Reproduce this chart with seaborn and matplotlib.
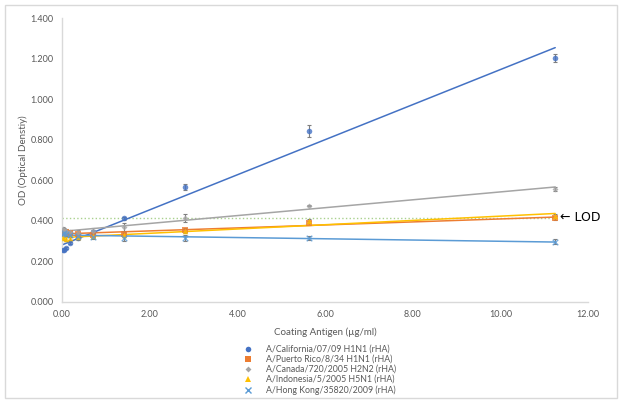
import numpy as np
import pandas as pd
import matplotlib
matplotlib.use("Agg")
import matplotlib.pyplot as plt
import seaborn as sns
from matplotlib.patches import Rectangle
from matplotlib.lines import Line2D

# Twofold dilution series of coating antigen (ug/ml)
conc = [11.25, 5.625, 2.8125, 1.406, 0.703, 0.352, 0.176, 0.088, 0.044, 0.022]

# OD readings per antigen
california = [1.205, 0.843, 0.567, 0.413, 0.345, 0.315, 0.290, 0.265, 0.258, 0.255]
puerto_rico = [0.414, 0.390, 0.355, 0.335, 0.330, 0.335, 0.340, 0.345, 0.340, 0.335]
canada = [0.557, 0.475, 0.414, 0.370, 0.350, 0.340, 0.345, 0.350, 0.355, 0.360]
indonesia = [0.424, 0.400, 0.350, 0.330, 0.325, 0.320, 0.315, 0.310, 0.315, 0.320]
hong_kong = [0.297, 0.315, 0.315, 0.315, 0.320, 0.325, 0.330, 0.335, 0.340, 0.335]

# standard deviations (error bars)
california_err = [0.020, 0.030, 0.015, 0.008, 0.010, 0.008, 0.006, 0.006, 0.006, 0.006]
puerto_rico_err = [0.008, 0.010, 0.010, 0.010, 0.010, 0.010, 0.008, 0.008, 0.008, 0.008]
canada_err = [0.008, 0.004, 0.018, 0.018, 0.015, 0.015, 0.010, 0.010, 0.010, 0.010]
indonesia_err = [0.008, 0.010, 0.010, 0.008, 0.008, 0.008, 0.008, 0.008, 0.008, 0.008]
hong_kong_err = [0.012, 0.010, 0.015, 0.015, 0.012, 0.012, 0.010, 0.010, 0.010, 0.010]

lod = 0.415

labels = ["A/California/07/09 H1N1 (rHA)",
          "A/Puerto Rico/8/34 H1N1 (rHA)",
          "A/Canada/720/2005 H2N2 (rHA)",
          "A/Indonesia/5/2005 H5N1 (rHA)",
          "A/Hong Kong/35820/2009 (rHA)"]
series = [california, puerto_rico, canada, indonesia, hong_kong]
errors = [california_err, puerto_rico_err, canada_err, indonesia_err, hong_kong_err]
colors = ["#4472C4", "#ED7D31", "#A5A5A5", "#FFC000", "#5B9BD5"]
markers = ["o", "s", "D", "^", "x"]
msizes = [4, 4, 3, 4, 4]

sns.set_theme(style="white")
plt.rcParams['font.family'] = ['Lato', 'DejaVu Sans']

fig = plt.figure(figsize=(6.21, 4.03), dpi=100)
ax = fig.add_axes([0.100, 0.251, 0.847, 0.704])

# LOD reference line
ax.plot([0, conc[0]], [lod, lod], color="#A9D18E", linestyle=":", linewidth=1.0, zorder=1)

handles = []
for lab, y, err, c, m, ms in zip(labels, series, errors, colors, markers, msizes):
    df = pd.DataFrame({"x": conc, "y": y})
    ax.errorbar(conc, y, yerr=err, fmt="none", ecolor="#7F7F7F",
                elinewidth=0.8, capsize=1.5, capthick=0.8, zorder=2)
    sns.regplot(data=df, x="x", y="y", ax=ax, ci=None, marker=m, color=c,
                scatter_kws={"s": ms ** 2, "linewidths": 1.0 if m == "x" else 0, "zorder": 3},
                line_kws={"linewidth": 1.1, "zorder": 2})
    handles.append(Line2D([], [], linestyle="none", marker=m, color=c,
                          markersize=ms, markeredgewidth=1.0 if m == "x" else 0))

ax.set_xlim(0, 12)
ax.set_ylim(0, 1.4)
ax.set_xticks(np.arange(0, 12.1, 2))
ax.set_yticks(np.arange(0, 1.41, 0.2))
ax.set_xticklabels([f"{v:.2f}" for v in np.arange(0, 12.1, 2)])
ax.set_yticklabels([f"{v:.3f}" for v in np.arange(0, 1.41, 0.2)])
ax.tick_params(axis="both", labelsize=6.5, colors="#595959", length=0, pad=6)

for side in ["top", "right"]:
    ax.spines[side].set_visible(False)
for side in ["left", "bottom"]:
    ax.spines[side].set_color("#D9D9D9")
    ax.spines[side].set_linewidth(1.0)

ax.set_xlabel("Coating Antigen (µg/ml)", fontsize=7, color="#595959", labelpad=6)
ax.set_ylabel("OD (Optical Denstiy)", fontsize=7, color="#595959", labelpad=2)

ax.text(11.37, lod, "← LOD", fontsize=9, color="black", va="center", ha="left",
        family=["DejaVu Sans"])

fig.legend(handles, labels, loc="upper center", bbox_to_anchor=(0.515, 0.155),
           frameon=False, fontsize=6.3, labelcolor="#595959", handlelength=1.0,
           handletextpad=1.5, labelspacing=0.12, borderpad=0)

fig.patches.append(Rectangle((0.008, 0.012), 0.985, 0.976, transform=fig.transFigure,
                             fill=False, edgecolor="#D9D9D9", linewidth=1.0))

fig.savefig("out.png", dpi=100)
